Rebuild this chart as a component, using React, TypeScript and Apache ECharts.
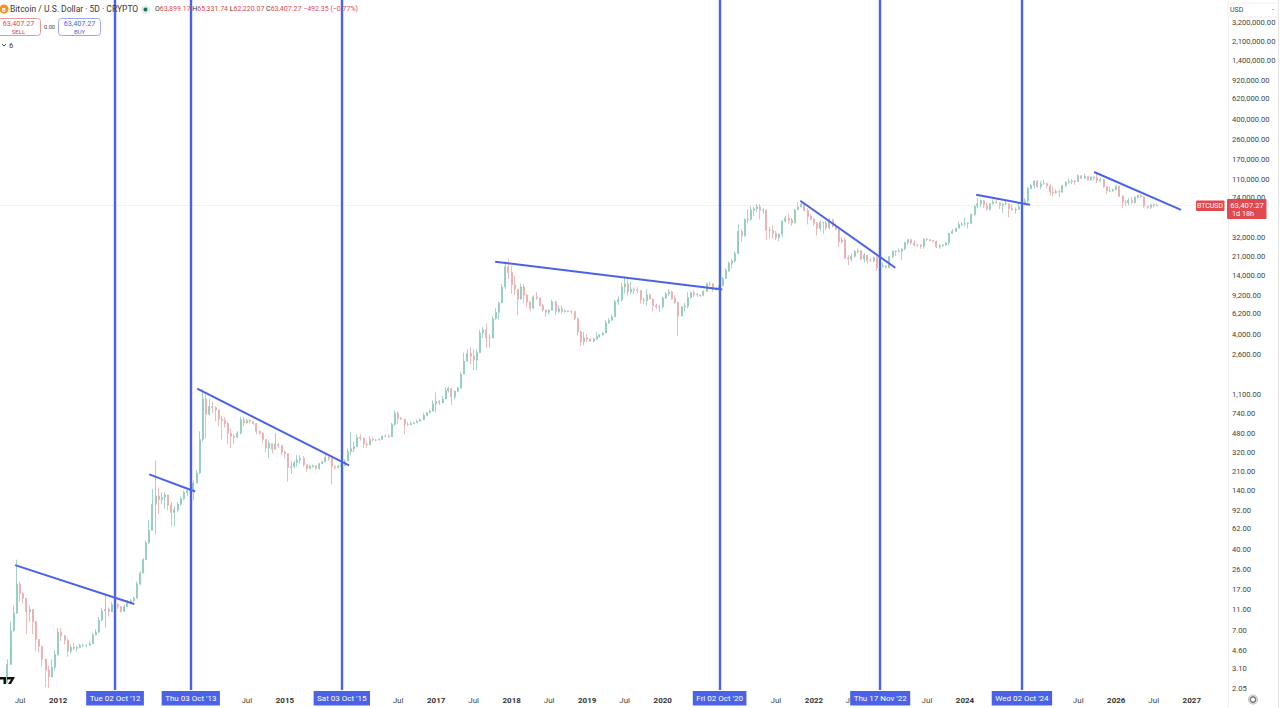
import React, { useEffect, useRef } from "react";
import * as echarts from "echarts";

// rows are [close, high, low], one per half month; each open is the previous close
const startOpen = 2.3;
const rows2011 = [[3.4,3.8,2.3],[7,8.5,5],[10.2,12,6.8],[19,32,10],[15.5,20,13],[14,16,12.5],[10.5,14,6.5],[11,12,8.5],[8.5,10,6.5],[5.8,7.5,4.5],[5,5.8,4.4],[3.8,5,3.2],[3,3.6,2.1],[2.6,3.3,2.05],[3.2,3.8,2.6],[4.2,4.6,3]];
const rows2012 = [[6.8,7.4,4.1],[6.3,7.4,5.6],[5.7,6.4,5.2],[4.5,5.9,4],[4.9,5.2,4.3],[4.8,5.4,4.6],[4.9,5.1,4.5],[5.1,5.3,4.8],[5.1,5.3,4.9],[5.1,5.2,4.9],[5.3,5.6,5.1],[6.4,6.7,5.3],[6.8,7.2,6.3],[8.8,9.4,6.6],[10.7,11.4,8.6],[11,15.5,7.5],[10.5,11.5,9.5],[12.2,13,10.4],[12.3,13,11.8],[11.7,12.5,11.2],[10.6,11.8,10.3],[11.7,12.2,10.8],[12.6,13.5,11.7],[13.3,13.8,12.8]];
const rows2013 = [[14,14.5,13],[19,20,14],[24,25,18.5],[32,33,24],[46,48,32],[60,75,45],[105,145,60],[125,266,55],[116,150,85],[122,135,105],[128,137,95],[103,125,92],[88,110,65],[93,100,65],[105,110,88],[118,124,102],[135,140,115],[140,146,125],[142,150,120],[165,175,115],[205,220,165],[420,500,200],[1000,1240,400],[720,1100,430]];
const rows2014 = [[850,1000,700],[830,950,740],[790,860,620],[650,720,560],[630,700,420],[590,680,540],[480,610,380],[450,530,350],[440,470,380],[480,500,430],[640,680,470],[600,680,560],[630,660,590],[620,650,590],[590,620,570],[500,600,470],[480,510,465],[420,490,390],[350,420,320],[385,410,280],[340,390,310],[380,480,345],[370,390,350],[320,370,300]];
const rows2015 = [[310,330,280],[230,300,170],[235,265,200],[255,265,225],[270,300,235],[280,300,250],[245,295,235],[225,245,210],[235,245,225],[240,245,230],[225,240,220],[250,255,220],[260,265,250],[285,315,270],[280,295,265],[235,270,160],[230,240,220],[235,245,225],[240,245,235],[265,275,240],[325,345,265],[345,490,300],[360,400,320],[440,470,360]];
const rows2016 = [[430,470,410],[380,440,350],[375,400,350],[420,450,370],[415,440,405],[415,425,405],[420,430,410],[450,460,420],[450,470,440],[445,470,435],[580,600,450],[740,780,560],[660,770,580],[650,680,640],[580,640,470],[575,610,560],[590,615,570],[600,610,590],[620,640,600],[640,660,625],[700,740,680],[745,760,700],[770,800,740],[900,970,780]];
const rows2017 = [[950,1150,750],[920,980,880],[1000,1060,950],[1190,1280,1040],[1250,1300,1150],[1050,1270,880],[1180,1200,1000],[1260,1300,1160],[1700,1800,1300],[2250,2700,1700],[2650,2900,2200],[2500,3000,2100],[2300,2900,1850],[2700,2900,1850],[4100,4400,2700],[4400,4700,3700],[3700,5000,3000],[3700,4000,2970],[5600,5900,4100],[6400,7000,5400],[7800,8000,5500],[11000,11800,7800],[17000,19000,10500],[15000,19800,13000]];
const rows2018 = [[11500,17200,9500],[10500,14000,9300],[8500,10500,6000],[11000,11800,8400],[9200,11700,7800],[8000,9500,7200],[7000,8000,6500],[8900,9200,6900],[8700,9900,8300],[7400,8700,7200],[6700,7700,6400],[6400,6800,5800],[6700,6800,6100],[8000,8400,6600],[6500,8200,6000],[6900,7400,6300],[6500,7400,6200],[6600,6800,6300],[6500,6700,6400],[6500,6700,6200],[5600,6500,5400],[4200,5600,3900],[3400,4300,3100],[3700,4200,3150]];
const rows2019 = [[3600,4000,3400],[3450,3700,3400],[3600,3700,3350],[3800,4200,3700],[3950,4000,3700],[4100,4200,3900],[5100,5400,4100],[5400,5650,5000],[5800,6100,5300],[8000,8400,5800],[8400,9000,7500],[11000,12000,8000],[11800,13800,9600],[9900,13000,9100],[10500,12300,9400],[10300,10900,9400],[10200,10900,9600],[8300,10300,7700],[8200,8800,7700],[9300,10500,7400],[8500,9500,8400],[7400,8600,6500],[7200,7700,6900],[7200,7500,6450]];
const rows2020 = [[8700,9000,6900],[9500,9800,8500],[9900,10500,9100],[8600,10100,8400],[7900,9200,7600],[5900,8000,3850],[7200,7300,6000],[7300,7800,6500],[8800,9900,7000],[9700,10000,8600],[9400,10300,8900],[9300,9700,8900],[9200,9400,8900],[10000,10200,9100],[11800,12100,10000],[11700,12400,11200],[10400,12000,9900],[10700,11000,10100],[11300,11600,10400],[13200,13700,11200],[15600,16500,13200],[18300,18900,15200],[19200,19900,16300],[22500,23800,18500]];
const rows2021 = [[36000,41900,28700],[33000,38000,28900],[46500,48000,32300],[47000,58300,43000],[57000,61800,45000],[58700,61000,50400],[61000,64800,55000],[56500,64900,47000],[57000,59500,53000],[37000,58000,30000],[37000,40000,31000],[34700,41300,31000],[31800,36600,30100],[34000,34500,29300],[45000,46000,32000],[48000,50500,43900],[46000,52900,42800],[43200,48500,40700],[57500,58500,43300],[61000,67000,57500],[65000,69000,60500],[56500,66400,55600],[50000,59000,42000],[47000,52000,45700]];
const rows2022 = [[43000,47900,40600],[38500,44000,32900],[43800,45800,36300],[43200,44700,34300],[39000,45400,37100],[46300,48200,38200],[40500,47400,39200],[37700,42900,37600],[29000,40000,26000],[30000,31900,28000],[20500,31900,20000],[20000,21800,17600],[21200,22400,18900],[23500,24300,20700],[23900,25200,22700],[20000,24400,19600],[21800,22800,18500],[19300,20200,18200],[19200,20400,18900],[20600,21000,18700],[16600,21400,15500],[17000,17200,15500],[17300,18400,16700],[16600,17000,16300]];
const rows2023 = [[21100,21300,16500],[23700,23900,20400],[23500,24200,21400],[23600,25200,23000],[24900,25000,19600],[28400,29000,24100],[30300,30500,27200],[28200,31000,27000],[26900,29800,26200],[27000,27600,26100],[26300,27400,25000],[30500,31400,25000],[30300,31500,29600],[29700,30400,29000],[29200,30100,28700],[26000,29700,25300],[26600,27400,24900],[27000,27500,26000],[28400,28600,26500],[34700,35200,26800],[36200,37900,34100],[38700,39000,35600],[42000,44700,38600],[42300,44300,40200]];
const rows2024 = [[42700,48900,40200],[43000,44000,38500],[52000,52800,42300],[62000,64000,50500],[65300,73800,59000],[69700,71600,60700],[63800,71300,59600],[58000,67200,56500],[65300,66400,56500],[67700,71900,64500],[66700,71900,65000],[62700,67300,58400],[65000,66000,53500],[65300,70000,63500],[59000,65600,49000],[57300,65000,57000],[58200,60500,52600],[60800,66400,57500],[66900,68400,59000],[69500,73600,65500],[90500,93500,66800],[97000,99800,89300],[106000,108300,90500],[94500,108300,92000]];
const rows2025 = [[100500,106000,89000],[100600,109500,97800],[96000,102700,91200],[84000,99500,78200],[82500,95000,76600],[85000,88700,81100],[83600,88500,74500],[96500,97900,83000],[103500,105800,93500],[105000,111900,100700],[106800,110400,100400],[105500,108800,98200],[119000,123200,105100],[113000,120000,112000],[117000,124500,112000],[109000,117500,107800],[116000,117000,107300],[114000,118000,108500],[108000,126200,102000],[110000,115000,103500],[94000,111000,92000],[86000,95000,80600],[86000,94000,83800],[88000,90500,84400]];
const rows2026 = [[95000,97800,87000],[77000,96000,75000],[68000,79000,60000],[67000,71000,62500],[70000,74000,63000],[67000,76000,65500],[75000,77000,65500],[78000,79500,73000],[76000,80000,74500],[62000,77000,60000],[60500,63500,59000],[64000,65000,58500],[62500,66000,60500],[63407.27,65331.74,62220.07]];
const yearRows: [number, number[][]][] = [[2011,rows2011],[2012,rows2012],[2013,rows2013],[2014,rows2014],[2015,rows2015],[2016,rows2016],[2017,rows2017],[2018,rows2018],[2019,rows2019],[2020,rows2020],[2021,rows2021],[2022,rows2022],[2023,rows2023],[2024,rows2024],[2025,rows2025],[2026,rows2026]];

const priceTicks = [3200000,2100000,1400000,920000,620000,400000,260000,170000,110000,74000,32000,21000,14000,9200,6200,4000,2600,1100,740,480,320,210,140,92,62,40,26,17,11,7,4.6,3.1,2.05];
const dateTicks: [string, string][] = [["2011-07-01","Jul"],["2012-01-01","2012"],["2014-07-01","Jul"],["2015-01-01","2015"],["2016-07-01","Jul"],["2017-01-01","2017"],["2017-07-01","Jul"],["2018-01-01","2018"],["2018-07-01","Jul"],["2019-01-01","2019"],["2019-07-01","Jul"],["2020-01-01","2020"],["2021-07-01","Jul"],["2022-01-01","2022"],["2022-06-13","J"],["2023-07-01","Jul"],["2024-01-01","2024"],["2025-07-01","Jul"],["2026-01-01","2026"],["2026-07-01","Jul"],["2027-01-01","2027"]];
const cycleDates: [string, string][] = [["2012-10-02","Tue 02 Oct '12"],["2013-10-03","Thu 03 Oct '13"],["2015-10-03","Sat 03 Oct '15"],["2020-10-02","Fri 02 Oct '20"],["2022-11-17","Thu 17 Nov '22"],["2024-10-02","Wed 02 Oct '24"]];
const trendLines: [string, number, string, number][] = [
  ["2011-06-07",28.5,"2013-01-03",12.4],
  ["2013-03-16",199,"2013-10-24",138],
  ["2013-11-03",1250,"2015-11-07",241],
  ["2017-10-13",18900,"2020-10-15",10400],
  ["2021-10-27",69700,"2023-01-29",16600],
  ["2024-02-24",79200,"2024-11-10",64000],
  ["2025-09-16",129000,"2026-11-10",57400],
];
const lastPrice = 63407.27;

const BLUE = "#4a62e8";
const RED = "#e0494d";
const FONT = "Roboto, 'Liberation Sans', sans-serif";
const ts = (d: string) => new Date(d + "T00:00:00").getTime();
const tickLabels = new Map(dateTicks.map(([d, l]) => [ts(d), l]));

function buildCandles() {
  const out: number[][] = [];
  let open = startOpen;
  for (const [year, rows] of yearRows) {
    let month = year === 2011 ? 4 : 0; // May 2011 is the first half month drawn
    let half = 0;
    for (const [close, high, low] of rows) {
      const date = new Date(year, month, half ? 16 : 1).getTime();
      out.push([date, open, close, low, high]);
      open = close;
      if (half) month++;
      half = 1 - half;
    }
  }
  return out;
}

function txt(x: number, y: number, text: string, size: number, fill: string, extra: any = {}) {
  return { type: "text", x, y, silent: true, z: 20, style: { text, fontSize: size, fill, fontFamily: FONT, textVerticalAlign: "middle", ...extra } };
}

export default function App() {
  const ref = useRef<HTMLDivElement>(null);
  useEffect(() => {
    const chart = echarts.init(ref.current!, undefined, { renderer: "svg" });
    const lineSeries = trendLines.map(([d1, p1, d2, p2]) => ({
      type: "line",
      data: [[ts(d1), p1], [ts(d2), p2]],
      symbol: "none",
      silent: true,
      z: 5,
      lineStyle: { color: BLUE, width: 2 },
    }));
    chart.setOption({
      animation: false,
      grid: { left: 0, right: 52, top: 0, bottom: 18 },
      xAxis: {
        type: "value",
        min: ts("2011-03-26"),
        max: ts("2027-06-25"),
        scale: true,
        axisLine: { show: false },
        axisTick: { show: false },
        splitLine: { show: false },
        axisLabel: {
          customValues: dateTicks.map(([d]) => ts(d)),
          margin: 6,
          hideOverlap: false,
          fontSize: 8,
          fontFamily: FONT,
          color: "#444",
          formatter: (v: number) => {
            const l = tickLabels.get(v) ?? "";
            return l === "Jul" || l === "J" ? l : `{y|${l}}`;
          },
          rich: { y: { fontWeight: "bold", fontSize: 8, color: "#333", fontFamily: FONT } },
        },
      },
      yAxis: {
        type: "log",
        logBase: 10,
        position: "right",
        min: 1.965,
        max: 5130000,
        axisLine: { show: false },
        axisTick: { show: false },
        splitLine: { show: false },
        axisLabel: {
          customValues: priceTicks,
          margin: 4,
          hideOverlap: false,
          fontSize: 7.6,
          fontFamily: FONT,
          color: "#444",
          formatter: (v: number) => v.toLocaleString("en-US", { minimumFractionDigits: 2, maximumFractionDigits: 2 }),
        },
      },
      series: [
        {
          type: "candlestick",
          data: buildCandles(),
          encode: { x: 0, y: [1, 2, 3, 4] },
          barWidth: 1.5,
          silent: true,
          z: 2,
          itemStyle: { color: "#8cc9ba", color0: "#efaeae", borderColor: "#8cc9ba", borderColor0: "#eaa8a8", borderWidth: 0.8 },
        },
        ...lineSeries,
        {
          type: "line",
          data: [],
          silent: true,
          z: 6,
          markLine: {
            symbol: ["none", "none"],
            silent: true,
            animation: false,
            data: [
              { yAxis: lastPrice, lineStyle: { color: "#f0d4d4", width: 0.8, type: "dotted" }, label: { show: false } },
              ...cycleDates.map(([d, label]) => ({
                xAxis: ts(d),
                lineStyle: { color: BLUE, width: 2.4, type: "solid" },
                label: {
                  show: true,
                  position: "start",
                  distance: 1,
                  formatter: label,
                  backgroundColor: BLUE,
                  color: "#fff",
                  fontSize: 8,
                  fontFamily: FONT,
                  padding: [3.5, 3.5, 3, 3.5],
                },
              })),
            ],
          },
        },
      ],
      graphic: [
        { type: "circle", shape: { cx: 4, cy: 9, r: 4.5 }, style: { fill: "#f7931a" }, silent: true, z: 20 },
        txt(2, 9, "B", 6, "#fff", { fontWeight: "bold" }),
        txt(10, 9, "Bitcoin / U.S. Dollar · 5D · CRYPTO", 8.5, "#3a3a3a"),
        { type: "circle", shape: { cx: 145.5, cy: 9.5, r: 4.5 }, style: { fill: "#dff1ea" }, silent: true, z: 20 },
        { type: "circle", shape: { cx: 145.5, cy: 9.5, r: 2 }, style: { fill: "#1f6f5a" }, silent: true, z: 20 },
        {
          type: "text", x: 155, y: 9, silent: true, z: 20,
          style: {
            text: "O{r|63,899.17} H{r|65,331.74} L{r|62,220.07} C{r|63,407.27} {r|−492.35 (−0.77%)}",
            fontSize: 7, fill: "#333", fontFamily: FONT, textVerticalAlign: "middle",
            rich: { r: { fill: RED, fontSize: 7, fontFamily: FONT } },
          },
        },
        { type: "rect", shape: { x: -3, y: 18.5, width: 43.5, height: 17, r: 3 }, style: { fill: "#fff", stroke: "#e89a9a", lineWidth: 1 }, silent: true, z: 19 },
        txt(18.5, 23.5, "63,407.27", 7.2, RED, { textAlign: "center" }),
        txt(18.5, 31, "SELL", 6, RED, { textAlign: "center" }),
        txt(49.5, 27, "0.00", 5.6, "#444", { textAlign: "center" }),
        { type: "rect", shape: { x: 58.5, y: 18.5, width: 42, height: 17, r: 3 }, style: { fill: "#fff", stroke: "#9aa8ee", lineWidth: 1 }, silent: true, z: 19 },
        txt(79.5, 23.5, "63,407.27", 7.2, BLUE, { textAlign: "center" }),
        txt(79.5, 31, "BUY", 6, BLUE, { textAlign: "center" }),
        { type: "polyline", shape: { points: [[2, 44], [4, 46], [6, 44]] }, style: { stroke: "#444", lineWidth: 1, fill: "none" }, silent: true, z: 20 },
        txt(9, 45, "6", 7.6, "#333"),
        { type: "polygon", shape: { points: [[0, 677], [6, 677], [6, 684], [3.5, 684], [3.5, 679.5], [0, 679.5]] }, style: { fill: "#111" }, silent: true, z: 20 },
        { type: "polygon", shape: { points: [[7, 677], [15, 677], [11, 684], [8, 684], [11, 679.5], [7, 679.5]] }, style: { fill: "#111" }, silent: true, z: 20 },
        { type: "line", shape: { x1: 1228.5, y1: 0, x2: 1228.5, y2: 708 }, style: { stroke: "#f0f0f0", lineWidth: 1 }, silent: true, z: 1 },
        { type: "line", shape: { x1: 1278.5, y1: 0, x2: 1278.5, y2: 708 }, style: { stroke: "#e6e6e6", lineWidth: 1 }, silent: true, z: 1 },
        { type: "rect", shape: { x: 1228, y: 3, width: 50, height: 14 }, style: { fill: "#fff", stroke: "#f0f0f0" }, silent: true, z: 10 },
        txt(1230, 10, "USD", 7, "#444"),
        txt(1272, 10, "-", 7, "#555"),
        { type: "rect", shape: { x: 1196, y: 200.5, width: 28.5, height: 10.5, r: 1 }, style: { fill: RED }, silent: true, z: 19 },
        txt(1210, 206, "BTCUSD", 7, "#fff", { textAlign: "center" }),
        { type: "rect", shape: { x: 1227, y: 199, width: 39.5, height: 20, r: 1 }, style: { fill: RED }, silent: true, z: 19 },
        txt(1247, 205, "63,407.27", 7.6, "#fff", { textAlign: "center" }),
        txt(1232, 213.5, "1d 18h", 7.2, "#fff"),
        { type: "ring", shape: { cx: 1253, cy: 699.5, r: 3.5, r0: 2 }, style: { fill: "#777" }, silent: true, z: 20 },
        { type: "circle", shape: { cx: 1253, cy: 699.5, r: 4.5 }, style: { fill: "none", stroke: "#999", lineWidth: 0.7 }, silent: true, z: 20 },
      ],
    });
    return () => chart.dispose();
  }, []);
  return <div ref={ref} style={{ position: "fixed", left: 0, top: 0, width: 1280, height: 708, background: "#fff" }} />;
}
